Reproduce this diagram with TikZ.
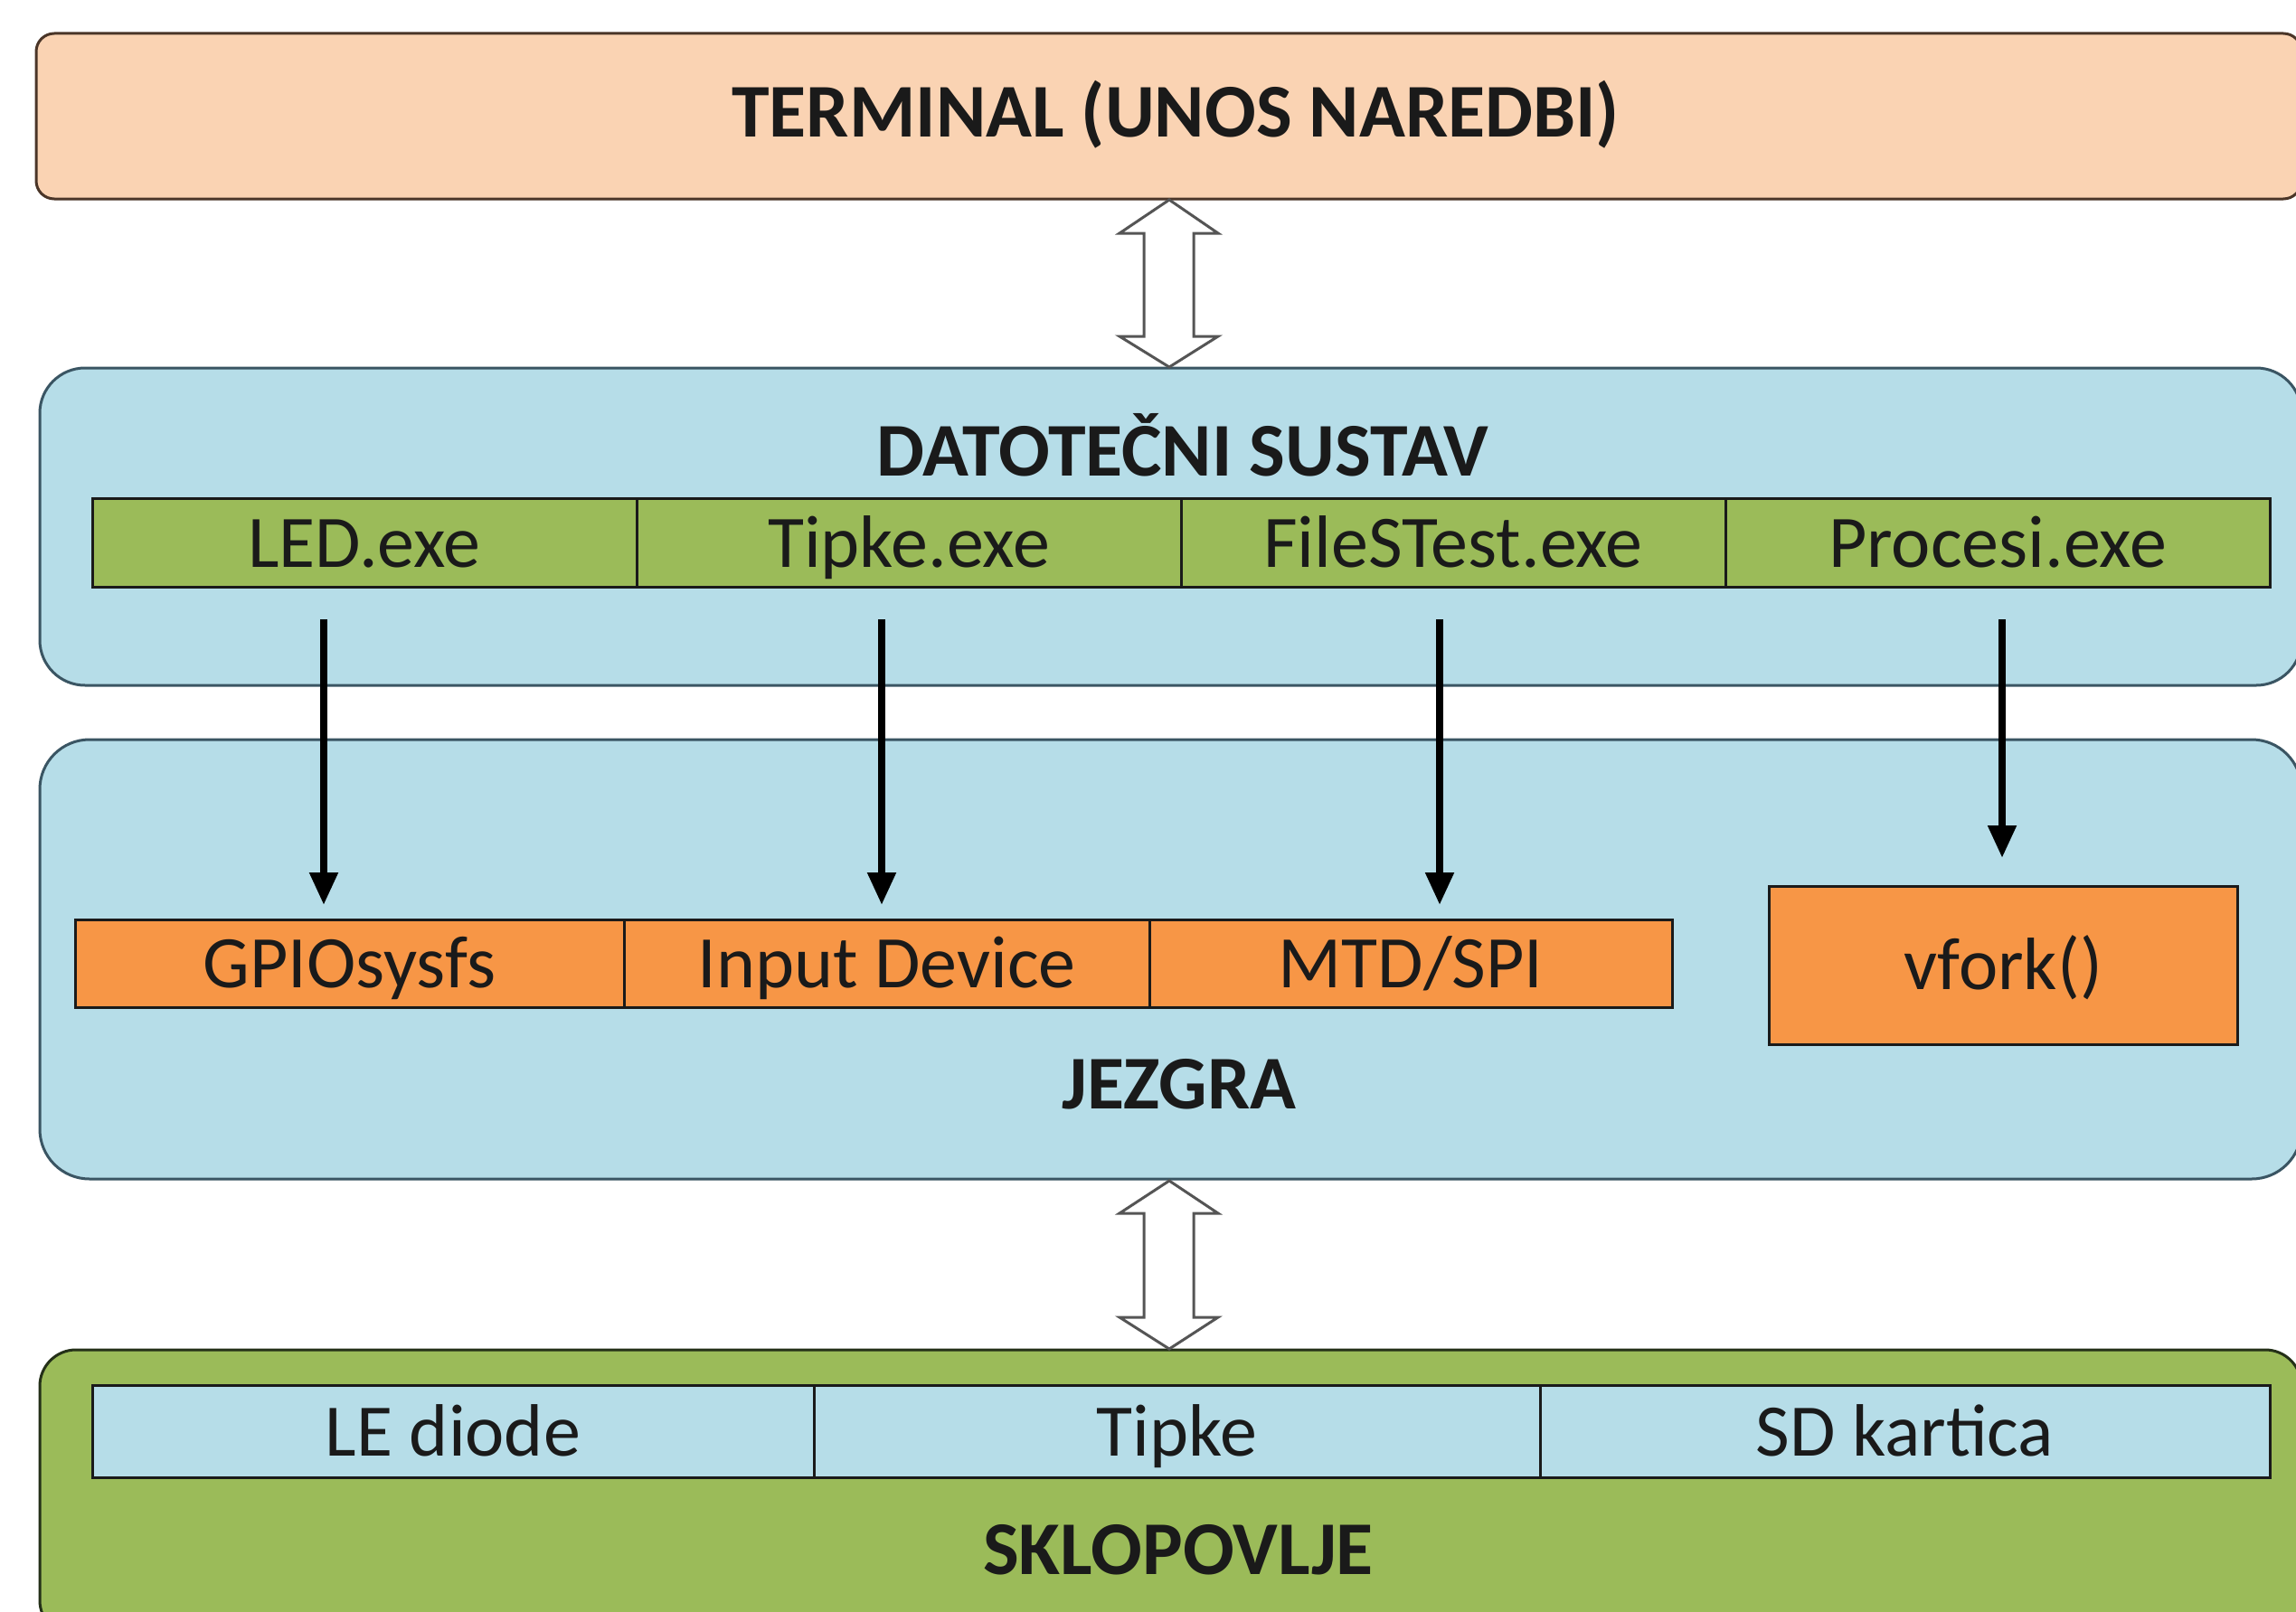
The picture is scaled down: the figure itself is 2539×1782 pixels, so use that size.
\documentclass[tikz,border=0pt]{standalone}
\usepackage{fontspec}
\setmainfont{Carlito}
\usetikzlibrary{arrows.meta}
\definecolor{peach}{HTML}{FAD3B3}
\definecolor{peachline}{HTML}{4A3528}
\definecolor{lblue}{HTML}{B6DDE8}
\definecolor{blueline}{HTML}{3A5563}
\definecolor{olive}{HTML}{9BBB59}
\definecolor{oliveline}{HTML}{243018}
\definecolor{orng}{HTML}{F79646}
\definecolor{dark}{HTML}{1A1A1A}
\definecolor{dblline}{HTML}{555555}
\tikzset{
  panel/.style={draw, line width=3pt, inner sep=0pt, outer sep=0pt},
  cell/.style={draw=dark, line width=3pt, inner sep=0pt, outer sep=0pt, text=dark,
    text height=68pt, text depth=14pt,
    font=\fontsize{82}{98}\selectfont},
  title/.style={inner sep=0pt, anchor=base, text=dark, font=\bfseries\fontsize{84}{100}\selectfont},
  arr/.style={line width=8pt, draw=black, -{Triangle[length=36pt,width=30pt]}},
  dblarrow/.style={draw=dblline, fill=white, line width=3pt, line join=miter}
}
\begin{document}
\begin{tikzpicture}[x=1pt,y=-1pt]
\useasboundingbox (0,0) rectangle (2539,1782);
\clip (0,0) rectangle (2539,1782);
\fill[white] (0,0) rectangle (2539,1782);

% panels
\node[panel, draw=peachline, fill=peach, rounded corners=20pt,
  minimum width=2505pt, minimum height=183pt] (term) at (1292.5,128.5) {};
\node[panel, draw=blueline, fill=lblue, rounded corners=50pt,
  minimum width=2501pt, minimum height=351pt] (dat) at (1294.5,582.5) {};
\node[panel, draw=blueline, fill=lblue, rounded corners=55pt,
  minimum width=2501pt, minimum height=486pt] (jez) at (1294.5,1061) {};
\node[panel, draw=oliveline, fill=olive, rounded corners=40pt,
  minimum width=2501pt, minimum height=317pt] (sklop) at (1294.5,1651.5) {};

% titles
\node[title] (tterm) at (1300,151) {TERMINAL (UNOS NAREDBI)};
\node[title] (tdat) at (1308,526) {DATOTEČNI SUSTAV};
\node[title] (tjez) at (1304,1226) {JEZGRA};
\node[title] (tsklop) at (1303,1741) {SKLOPOVLJE};

% exe row
\foreach \n/\x/\t in {led/403/LED.exe, tip/1005/Tipke.exe, fst/1607/FileSTest.exe, proc/2209/Procesi.exe}
  \node[cell, fill=olive, minimum width=602pt, minimum height=98pt] (\n) at (\x,600) {\t};

% kernel row
\node[cell, fill=orng, minimum width=607pt, minimum height=97pt] (gpio) at (386.5,1065.5) {GPIOsysfs};
\node[cell, fill=orng, minimum width=581pt, minimum height=97pt] (inp) at (980.5,1065.5) {Input Device};
\node[cell, fill=orng, minimum width=578pt, minimum height=97pt] (mtd) at (1560,1065.5) {MTD/SPI};
\node[cell, fill=orng, minimum width=518pt, minimum height=175pt] (vf) at (2215,1067.5) {vfork()};

% hardware row
\node[cell, fill=lblue, minimum width=798pt, minimum height=102pt] (led2) at (501,1583) {LE diode};
\node[cell, fill=lblue, minimum width=803pt, minimum height=102pt] (tip2) at (1301.5,1583) {Tipke};
\node[cell, fill=lblue, minimum width=807pt, minimum height=102pt] (sd) at (2106.5,1583) {SD kartica};

% arrow end points
\coordinate (a1s) at (358,685);  \coordinate (a1e) at (358,1001);
\coordinate (a2s) at (975,685);  \coordinate (a2e) at (975,1001);
\coordinate (a3s) at (1592,685); \coordinate (a3e) at (1592,1001);
\coordinate (a4s) at (2214,685); \coordinate (a4e) at (2214,949);
\draw[arr] (a1s) -- (a1e);
\draw[arr] (a2s) -- (a2e);
\draw[arr] (a3s) -- (a3e);
\draw[arr] (a4s) -- (a4e);

% double arrows
\draw[dblarrow] (1293,221) -- (1347,258) -- (1320,258) -- (1320,372) -- (1347,372)
  -- (1293,406) -- (1238,372) -- (1265,372) -- (1265,258) -- (1238,258) -- cycle;
\draw[dblarrow] (1293,1306) -- (1347,1342) -- (1320,1342) -- (1320,1457) -- (1347,1457)
  -- (1293,1492) -- (1238,1457) -- (1265,1457) -- (1265,1342) -- (1238,1342) -- cycle;
\end{tikzpicture}
\end{document}
